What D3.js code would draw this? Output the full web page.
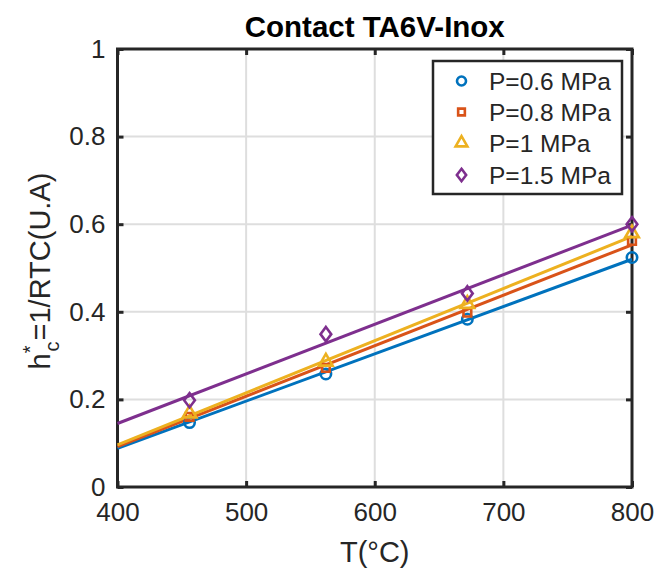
<html>
<head>
<style>
  body { margin: 0; background: #fff; }
  text { font-family: "Liberation Sans", Arial, sans-serif; fill: #262626; }
</style>
</head>
<body>
<svg></svg>
<script src="https://cdn.jsdelivr.net/npm/d3@7"></script>
<script>
// measured values
const temps = [456, 562, 672, 800];
const seriesNames = ["P=0.6 MPa", "P=0.8 MPa", "P=1 MPa", "P=1.5 MPa"];
const p06 = [0.147, 0.258, 0.383, 0.524];
const p08 = [0.160, 0.272, 0.398, 0.562];
const p10 = [0.168, 0.286, 0.418, 0.579];
const p15 = [0.198, 0.349, 0.442, 0.600];
// linear fits, value at T=400 and T=800
const fitT = [400, 800];
const fit06 = [0.088, 0.520];
const fit08 = [0.092, 0.553];
const fit10 = [0.096, 0.572];
const fit15 = [0.145, 0.598];
const xTicks = [400, 500, 600, 700, 800];
const yTicks = [0, 0.2, 0.4, 0.6, 0.8, 1];

const colors = ["#0072BD", "#D95319", "#EDB120", "#7E2F8E"];

// matlab-like marker shapes
const diamond = {
  draw(ctx, size) {
    const h = Math.sqrt(size) * 0.8, w = h * 0.75;
    ctx.moveTo(0, -h); ctx.lineTo(w, 0); ctx.lineTo(0, h); ctx.lineTo(-w, 0); ctx.closePath();
  }
};
const symbols = [d3.symbolCircle, d3.symbolSquare, d3.symbolTriangle, diamond];
const symSizes = [85, 60, 80, 80];

const series = [
  {name: seriesNames[0], pts: p06, fit: fit06},
  {name: seriesNames[1], pts: p08, fit: fit08},
  {name: seriesNames[2], pts: p10, fit: fit10},
  {name: seriesNames[3], pts: p15, fit: fit15}
];

const width = 655, height = 569;
const m = {left: 117.5, right: 632, top: 49, bottom: 487};

const svg = d3.select("svg").attr("width", width).attr("height", height);

const x = d3.scaleLinear().domain([400, 800]).range([m.left, m.right]);
const y = d3.scaleLinear().domain([0, 1]).range([m.bottom, m.top]);

// grid
svg.append("g").selectAll("line").data(xTicks.slice(1, -1)).join("line")
  .attr("x1", d => x(d)).attr("x2", d => x(d))
  .attr("y1", m.top).attr("y2", m.bottom)
  .attr("stroke", "#dedede").attr("stroke-width", 2);
svg.append("g").selectAll("line").data(yTicks.slice(1, -1)).join("line")
  .attr("y1", d => y(d)).attr("y2", d => y(d))
  .attr("x1", m.left).attr("x2", m.right)
  .attr("stroke", "#dedede").attr("stroke-width", 2);

// axes with inward ticks on all sides
const tickStyle = g => {
  g.select(".domain").remove();
  g.selectAll(".tick line").attr("stroke", "#262626").attr("stroke-width", 3);
  g.selectAll(".tick text").attr("font-size", 26).attr("fill", "#262626")
    .attr("font-family", "Liberation Sans, Arial, sans-serif");
};
svg.append("g").attr("transform", `translate(0,${m.bottom})`)
  .call(d3.axisBottom(x).tickValues(xTicks).tickSize(-6).tickPadding(16).tickFormat(d3.format("d")))
  .call(tickStyle);
svg.append("g").attr("transform", `translate(0,${m.top})`)
  .call(d3.axisTop(x).tickValues(xTicks).tickSize(-6).tickFormat(""))
  .call(tickStyle);
svg.append("g").attr("transform", `translate(${m.left},0)`)
  .call(d3.axisLeft(y).tickValues(yTicks).tickSize(-6).tickPadding(12).tickFormat(d => d3.format("")(+d.toFixed(1))))
  .call(tickStyle);
svg.append("g").attr("transform", `translate(${m.right},0)`)
  .call(d3.axisRight(y).tickValues(yTicks).tickSize(-6).tickFormat(""))
  .call(tickStyle);

svg.append("rect")
  .attr("x", m.left).attr("y", m.top)
  .attr("width", m.right - m.left).attr("height", m.bottom - m.top)
  .attr("fill", "none").attr("stroke", "#262626").attr("stroke-width", 3);

// fit lines and markers
const line = d3.line().x(d => x(d[0])).y(d => y(d[1]));
series.forEach((s, i) => {
  svg.append("path")
    .datum(fitT.map((t, j) => [t, s.fit[j]]))
    .attr("d", line)
    .attr("fill", "none").attr("stroke", colors[i]).attr("stroke-width", 3);
});
series.forEach((s, i) => {
  svg.append("g").selectAll("path").data(temps.map((t, j) => [t, s.pts[j]])).join("path")
    .attr("d", d3.symbol().type(symbols[i]).size(symSizes[i]))
    .attr("transform", d => `translate(${x(d[0])},${y(d[1])})`)
    .attr("fill", "none").attr("stroke", colors[i]).attr("stroke-width", 2.6);
});

// legend
const lg = svg.append("g");
lg.append("rect").attr("x", 433).attr("y", 61).attr("width", 189).attr("height", 133)
  .attr("fill", "#fff").attr("stroke", "#262626").attr("stroke-width", 2.5);
const legRows = [81, 112, 143, 175];
series.forEach((s, i) => {
  lg.append("path")
    .attr("d", d3.symbol().type(symbols[i]).size(symSizes[i] * 0.75))
    .attr("transform", `translate(461.5,${legRows[i]})`)
    .attr("fill", "none").attr("stroke", colors[i]).attr("stroke-width", 2.6);
  lg.append("text").attr("x", 489).attr("y", legRows[i]).attr("dy", "0.36em")
    .attr("font-size", 24.5).attr("fill", "#000").text(s.name);
});

// title and labels
svg.append("text").attr("x", (m.left + m.right) / 2).attr("y", 37)
  .attr("text-anchor", "middle").attr("font-size", 29.5).attr("font-weight", "bold")
  .style("fill", "#000").text("Contact TA6V-Inox");

svg.append("text").attr("x", (m.left + m.right) / 2).attr("y", 562)
  .attr("text-anchor", "middle").attr("font-size", 29).text("T(°C)");

const yl = svg.append("text")
  .attr("transform", `translate(50,${(m.top + m.bottom) / 2 + 3}) rotate(-90)`)
  .attr("text-anchor", "middle").attr("font-size", 29);
yl.append("tspan").text("h");
yl.append("tspan").attr("font-size", 20).attr("dy", -13).attr("dx", 0).text("*");
yl.append("tspan").attr("font-size", 20).attr("dy", 22).attr("dx", -6).text("c");
yl.append("tspan").attr("dy", -9).attr("dx", 1).text("=1/RTC(U.A)");
</script>
</body>
</html>
